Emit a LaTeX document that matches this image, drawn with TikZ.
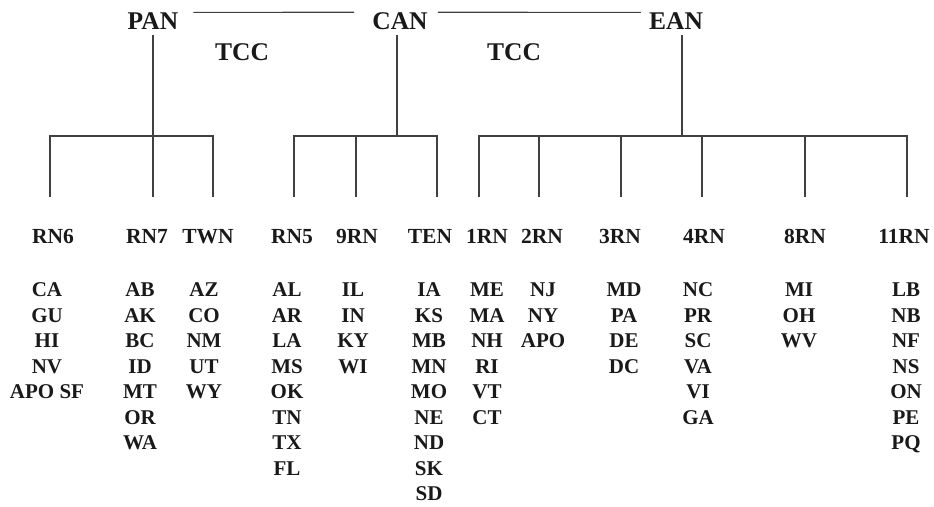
\documentclass[tikz,border=0pt]{standalone}
\usepackage{fontspec}
\setmainfont{Liberation Serif}
% one column of member codes, one node per code, on a fixed baseline grid
\newcommand\memberlist[3]{%
  \foreach \t [count=\i] in {#3} {\node[item] (#1-\i) at (#2,{271.3+25.5*\i}) {\t};}}
\begin{document}
\begin{tikzpicture}[x=1pt,y=-1pt,
  area/.style={font=\bfseries\fontsize{25.5}{25.5}\selectfont, inner sep=0pt, text=black!90},
  region/.style={font=\bfseries\fontsize{21.5}{21.5}\selectfont, inner sep=0pt, anchor=base, text=black!90},
  item/.style={font=\bfseries\fontsize{21}{21}\selectfont, inner sep=0pt, anchor=base, text=black!90},
  link/.style={draw=black!75, line width=1.1pt}]
\useasboundingbox (0,0) rectangle (934,506);

% area nodes and the trunk links between them
\node[area] (pan) at (153,21.5) {PAN};
\node[area] (can) at (400,21.5) {CAN};
\node[area] (ean) at (676,21.5) {EAN};
\node[area] (tcc1) at (242,52) {TCC};
\node[area] (tcc2) at (514,52) {TCC};
\draw[link] ([xshift=15pt,yshift=0.5pt]pan.north east) -- ([xshift=-18pt,yshift=0.5pt]can.north west);
\draw[link] ([xshift=10pt,yshift=0.5pt]can.north east) -- ([xshift=-8pt,yshift=0.5pt]ean.north west);

% region nodes
\node[region] (rn6)  at (53,243)  {RN6};
\node[region] (rn7)  at (147,243) {RN7};
\node[region] (twn)  at (208,243) {TWN};
\node[region] (rn5)  at (292,243) {RN5};
\node[region] (rn9)  at (357,243) {9RN};
\node[region] (ten)  at (430,243) {TEN};
\node[region] (rn1)  at (487,243) {1RN};
\node[region] (rn2)  at (542,243) {2RN};
\node[region] (rn3)  at (620,243) {3RN};
\node[region] (rn4)  at (704,243) {4RN};
\node[region] (rn8)  at (805,243) {8RN};
\node[region] (rn11) at (904,243) {11RN};

% tree junctions
\coordinate (ptop) at (153,35);  \coordinate (pbus) at (153,136);
\coordinate (ctop) at (397,35);  \coordinate (cbus) at (397,136);
\coordinate (etop) at (682,35);  \coordinate (ebus) at (682,136);
\coordinate (d6)  at (50,197);   \coordinate (d7)  at (153,197);  \coordinate (dtw) at (213,197);
\coordinate (d5)  at (294,197);  \coordinate (d9)  at (356,197);  \coordinate (dten) at (437,197);
\coordinate (d1)  at (479,197);  \coordinate (d2)  at (539,197);  \coordinate (d3)  at (621,197);
\coordinate (d4)  at (702,197);  \coordinate (d8)  at (805,197);  \coordinate (d11) at (907,197);

% PAN subtree
\draw[link] (ptop) -- (d7);
\draw[link] (d6) |- (pbus) -| (dtw);
% CAN subtree
\draw[link] (ctop) -- (cbus);
\draw[link] (d5) |- (cbus) -| (dten);
\draw[link] (d9) -- (d9 |- cbus);
% EAN subtree
\draw[link] (etop) -- (ebus);
\draw[link] (d1) |- (ebus) -| (d11);
\foreach \d in {d2,d3,d4,d8} \draw[link] (\d) -- (\d |- ebus);

% member lists
\memberlist{m6}{47}{CA,GU,HI,NV,APO SF}
\memberlist{m7}{140}{AB,AK,BC,ID,MT,OR,WA}
\memberlist{mtw}{204}{AZ,CO,NM,UT,WY}
\memberlist{m5}{287}{AL,AR,LA,MS,OK,TN,TX,FL}
\memberlist{m9}{353}{IL,IN,KY,WI}
\memberlist{mten}{429}{IA,KS,MB,MN,MO,NE,ND,SK,SD}
\memberlist{m1}{487}{ME,MA,NH,RI,VT,CT}
\memberlist{m2}{543}{NJ,NY,APO}
\memberlist{m3}{624}{MD,PA,DE,DC}
\memberlist{m4}{698}{NC,PR,SC,VA,VI,GA}
\memberlist{m8}{799}{MI,OH,WV}
\memberlist{m11}{906}{LB,NB,NF,NS,ON,PE,PQ}
\end{tikzpicture}
\end{document}
